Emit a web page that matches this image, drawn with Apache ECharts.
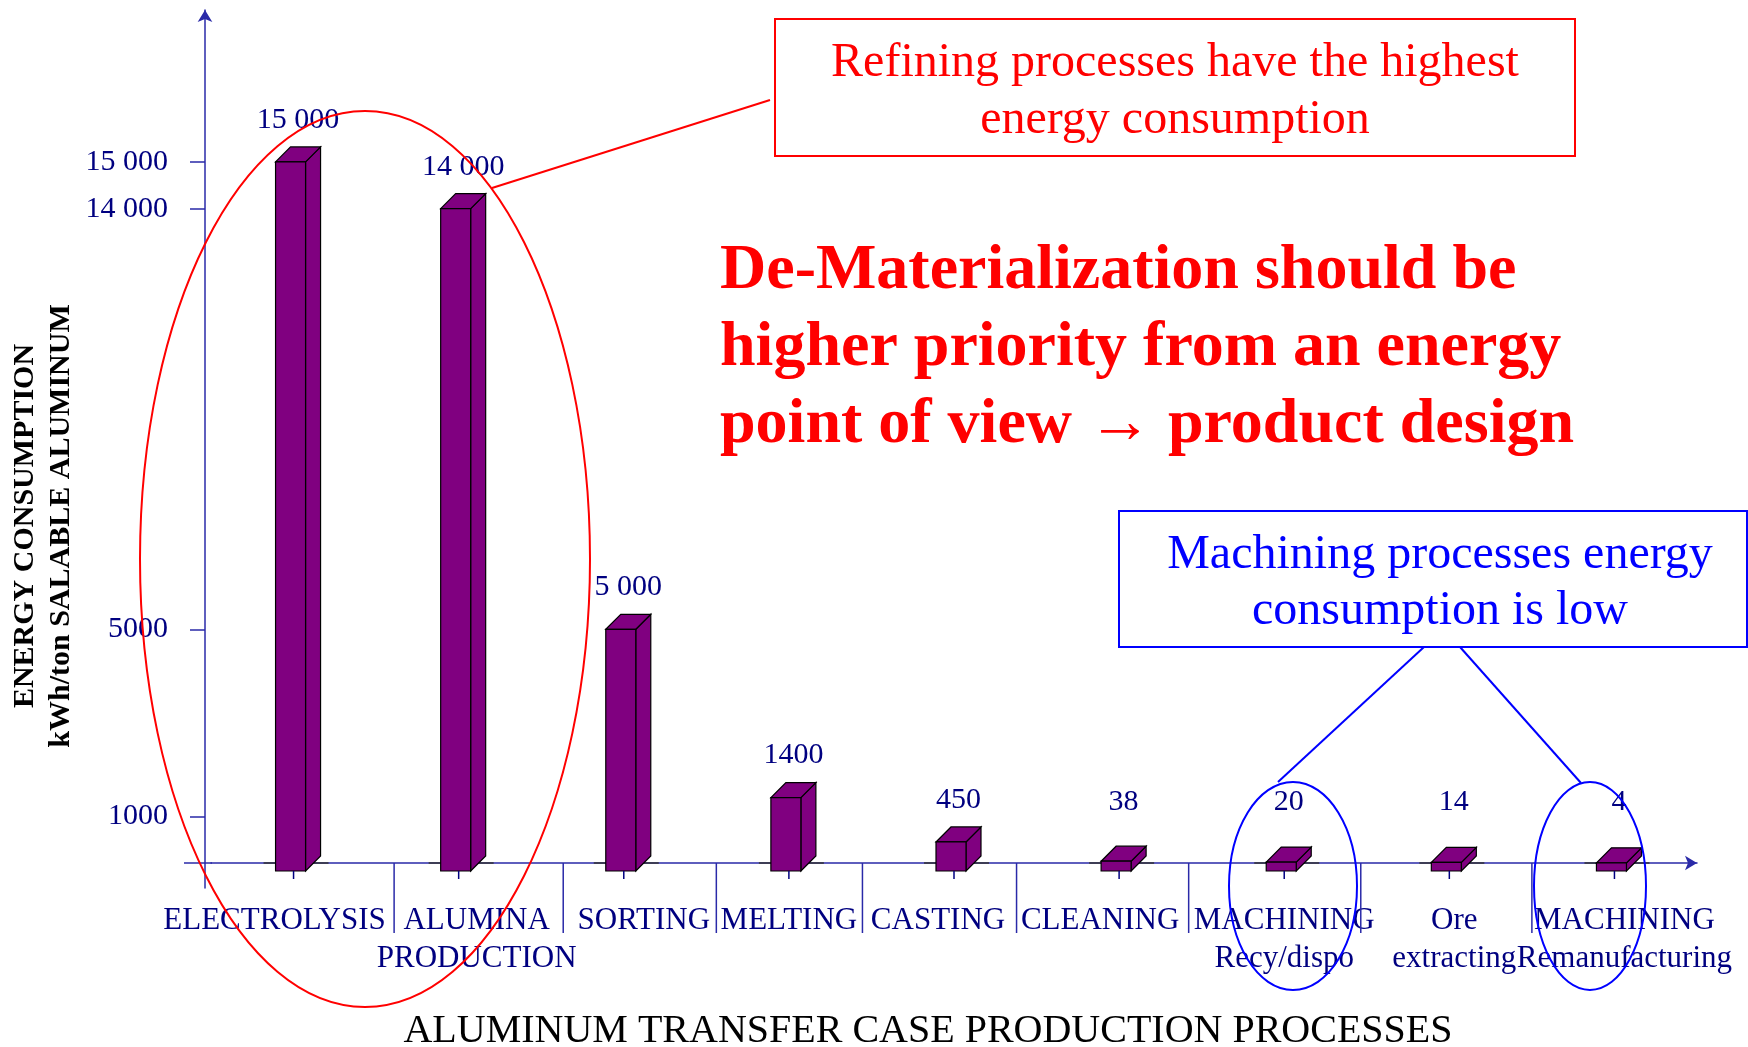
<!DOCTYPE html>
<html>
<head>
<meta charset="utf-8">
<script src="https://cdn.jsdelivr.net/npm/echarts@6/dist/echarts.min.js"></script>
<style>
  html, body { margin: 0; padding: 0; background: #fff; }
  #chart { width: 1748px; height: 1047px; }
</style>
</head>
<body>
<div id="chart"></div>
<script>
// data
var processes = ['ELECTROLYSIS', 'ALUMINA\nPRODUCTION', 'SORTING', 'MELTING', 'CASTING', 'CLEANING',
  'MACHINING\nRecy/dispo', 'Ore\nextracting', 'MACHINING\nRemanufacturing'];
var energy = [15000, 14000, 5000, 1400, 450, 38, 20, 14, 4];
var tickValues = [1000, 5000, 14000, 15000];
var tickLabels = ['1000', '5000', '14 000', '15 000'];

var navy = '#000080';
var axisBlue = '#2a2aa8';
var serif = 'Liberation Serif';

// the slide spaces its labels and separators unevenly; nudge them so nothing runs together
var labelNudge = { 0: -19, 1: 18, 2: 20, 4: -16, 5: -19, 7: 5, 8: 10 };
var sepNudge = { 1: 18, 2: 22, 3: 10, 4: -9, 5: -20, 6: -13, 7: -6 };

function fmt(v) {
  // big values written with a space between thousands
  if (v >= 5000) return Math.floor(v / 1000) + ' ' + String(v % 1000).padStart(3, '0');
  return String(v);
}

function renderBox(params, api) {
  var i = api.value(0), v = api.value(1);
  var top = api.coord([i, v]);
  var base = api.coord([i, 0]);
  var band = api.size([1, 0])[0];
  var cx = top[0], y0 = base[1];
  var fw = 30, d = 15;
  var fx = cx - 18;
  var fb = y0 + 8;
  var ft = Math.min(top[1], fb - 6);
  var face = { fill: '#800080', stroke: '#000', lineWidth: 1.2 };
  var labelBase = Math.min(ft - d - 18, y0 - 52);
  var kids = [
    { type: 'line', shape: { x1: fx - 12, y1: y0, x2: fx + fw + d + 8, y2: y0 }, style: { stroke: '#333', lineWidth: 1.5 } },
    { type: 'polygon', shape: { points: [[fx + fw, ft], [fx + fw + d, ft - d], [fx + fw + d, fb - d], [fx + fw, fb]] }, style: face },
    { type: 'polygon', shape: { points: [[fx, ft], [fx + d, ft - d], [fx + fw + d, ft - d], [fx + fw, ft]] }, style: face },
    { type: 'rect', shape: { x: fx, y: ft, width: fw, height: fb - ft }, style: face },
    { type: 'line', shape: { x1: cx, y1: fb, x2: cx, y2: fb + 8 }, style: { stroke: navy, lineWidth: 1.5 } },
    {
      type: 'text',
      style: {
        x: fx + (fw + d) / 2, y: labelBase + 6,
        text: fmt(v), fill: navy,
        font: '30px "' + serif + '"',
        textAlign: 'center', textVerticalAlign: 'bottom'
      }
    }
  ];
  // separator between this category and the previous one
  if (i > 0) {
    var sx = cx - band / 2 + (sepNudge[i] || 0);
    kids.push({ type: 'line', shape: { x1: sx, y1: y0, x2: sx, y2: y0 + 70 }, style: { stroke: axisBlue, lineWidth: 1.5 } });
  }
  return { type: 'group', children: kids };
}

var categoryItems = processes.map(function (name, i) {
  var n = labelNudge[i] || 0;
  if (!n) return name;
  // padding on one side moves a centred label by half of it
  var pad = n < 0 ? [0, -2 * n, 0, 0] : [0, 0, 0, 2 * n];
  return { value: name, textStyle: { padding: pad } };
});

var myChart = echarts.init(document.getElementById('chart'));

myChart.setOption({
  animation: false,
  backgroundColor: '#fff',
  grid: { left: 211, right: 51, top: 10, bottom: 159, containLabel: false },
  xAxis: {
    type: 'category',
    data: categoryItems,
    boundaryGap: true,
    axisLine: {
      show: true,
      onZero: true,
      symbol: ['none', 'arrow'],
      symbolSize: [11, 12],
      lineStyle: { color: axisBlue, width: 1.5 }
    },
    axisTick: { show: false },
    axisLabel: {
      interval: 0,
      margin: 14,
      color: navy,
      fontFamily: serif,
      fontSize: 31,
      lineHeight: 38
    },
    splitLine: { show: false }
  },
  yAxis: {
    type: 'value',
    min: -535,
    max: 18250,
    offset: 6,
    axisLine: {
      show: true,
      symbol: ['none', 'arrow'],
      symbolSize: [11, 12],
      lineStyle: { color: axisBlue, width: 1.5 }
    },
    axisTick: {
      show: true,
      length: 15,
      customValues: tickValues,
      lineStyle: { color: axisBlue, width: 1.5 }
    },
    axisLabel: {
      customValues: tickValues,
      margin: 37,
      color: navy,
      fontFamily: serif,
      fontSize: 30,
      formatter: function (val) {
        var k = tickValues.indexOf(val);
        return k >= 0 ? tickLabels[k] : '';
      }
    },
    splitLine: { show: false }
  },
  series: [{
    type: 'custom',
    coordinateSystem: 'cartesian2d',
    clip: false,
    renderItem: renderBox,
    encode: { x: 0, y: 1 },
    data: energy.map(function (v, i) { return [i, v]; })
  }],
  graphic: [
    // the x axis line runs a little to the left of the y axis
    {
      type: 'line', z: 5, shape: { x1: 184, y1: 863, x2: 212, y2: 863 },
      style: { stroke: axisBlue, lineWidth: 1.5 }
    },
    // axis titles
    {
      type: 'text', x: 43, y: 526, rotation: Math.PI / 2, z: 50,
      style: {
        text: 'ENERGY CONSUMPTION\nkWh/ton SALABLE ALUMINUM',
        font: 'bold 30px "' + serif + '"', fill: '#000',
        textAlign: 'center', textVerticalAlign: 'middle', lineHeight: 36
      }
    },
    {
      type: 'text', x: 928, y: 1031, z: 50,
      style: {
        text: 'ALUMINUM TRANSFER CASE PRODUCTION PROCESSES',
        font: '40px "' + serif + '"', fill: '#000',
        textAlign: 'center', textVerticalAlign: 'middle'
      }
    },
    // red note
    {
      type: 'rect', z: 60, shape: { x: 775, y: 19, width: 800, height: 137 },
      style: { fill: 'none', stroke: '#ff0000', lineWidth: 2 }
    },
    {
      type: 'text', x: 1175, y: 92, z: 60,
      style: {
        text: 'Refining processes have the highest\nenergy consumption',
        font: '48px "' + serif + '"', fill: '#ff0000',
        textAlign: 'center', textVerticalAlign: 'middle', lineHeight: 57
      }
    },
    {
      type: 'line', z: 60, shape: { x1: 492, y1: 188, x2: 770, y2: 100 },
      style: { stroke: '#ff0000', lineWidth: 2 }
    },
    {
      type: 'ellipse', z: 60, shape: { cx: 365, cy: 559, rx: 225, ry: 448 },
      style: { fill: 'none', stroke: '#ff0000', lineWidth: 2 }
    },
    // headline
    {
      type: 'text', x: 720, y: 348, z: 60,
      style: {
        text: 'De-Materialization should be\nhigher priority from an energy\npoint of view \u2192 product design',
        font: 'bold 64px "' + serif + '"', fill: '#ff0000',
        textAlign: 'left', textVerticalAlign: 'middle', lineHeight: 77
      }
    },
    // blue note
    {
      type: 'rect', z: 60, shape: { x: 1119, y: 511, width: 628, height: 136 },
      style: { fill: 'none', stroke: '#0000ff', lineWidth: 2 }
    },
    {
      type: 'text', x: 1440, y: 583, z: 60,
      style: {
        text: 'Machining processes energy\nconsumption is low',
        font: '48px "' + serif + '"', fill: '#0000ff',
        textAlign: 'center', textVerticalAlign: 'middle', lineHeight: 56
      }
    },
    {
      type: 'line', z: 60, shape: { x1: 1424, y1: 647, x2: 1278, y2: 782 },
      style: { stroke: '#0000ff', lineWidth: 2 }
    },
    {
      type: 'line', z: 60, shape: { x1: 1460, y1: 647, x2: 1581, y2: 783 },
      style: { stroke: '#0000ff', lineWidth: 2 }
    },
    {
      type: 'ellipse', z: 60, shape: { cx: 1293, cy: 886, rx: 64, ry: 104 },
      style: { fill: 'none', stroke: '#0000ff', lineWidth: 2 }
    },
    {
      type: 'ellipse', z: 60, shape: { cx: 1590, cy: 886, rx: 56, ry: 104 },
      style: { fill: 'none', stroke: '#0000ff', lineWidth: 2 }
    }
  ]
});
</script>
</body>
</html>
